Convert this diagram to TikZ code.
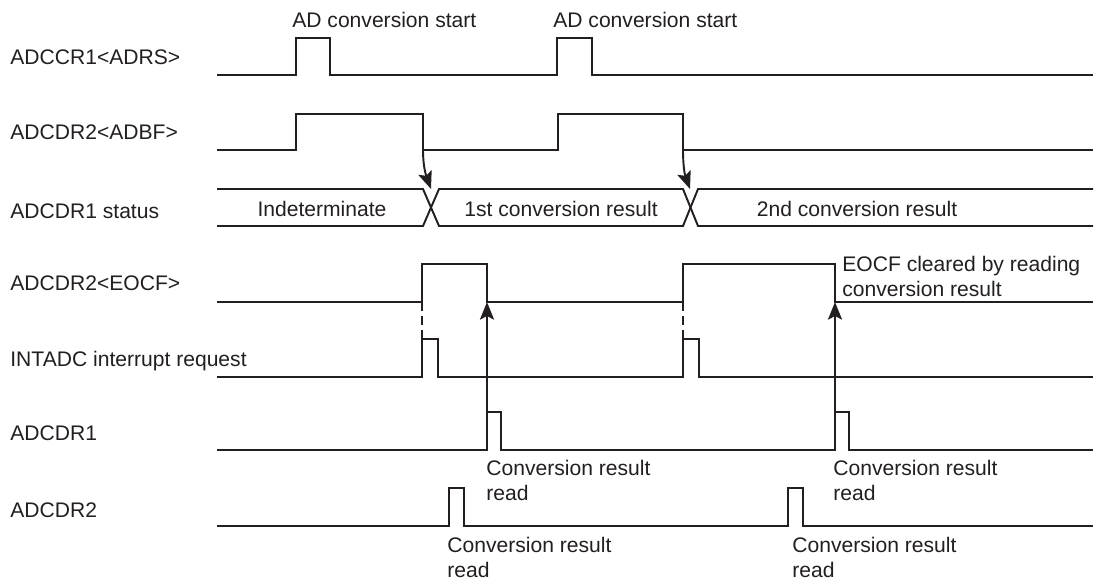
\documentclass[tikz,border=0pt]{standalone}
\usepackage{fontspec}
\setmainfont{Liberation Sans}
\usepackage{tikz}
\usetikzlibrary{arrows.meta}
\definecolor{wavegray}{RGB}{35,31,32}

\begin{document}
\begin{tikzpicture}[x=0.02cm,y=-0.02cm,>={Stealth[length=10pt,width=8pt,inset=2pt]},
    wave/.style={wavegray,line width=1.1pt,line join=miter},
    lbl/.style={anchor=base west,inner sep=0pt,text=wavegray,font=\fontsize{12}{13.8}\selectfont},
    note/.style={lbl,align=left}]
    % Frame of the page
    \useasboundingbox (0,0) rectangle (1101,583);

    % Signal names
    \node[lbl] (nadrs) at (10,64) {ADCCR1<ADRS>};
    \node[lbl] (nadbf) at (10,139) {ADCDR2<ADBF>};
    \node[lbl] (nstat) at (10,218) {ADCDR1 status};
    \node[lbl] (neocf) at (10,290) {ADCDR2<EOCF>};
    \node[lbl] (nint) at (10,366) {INTADC interrupt request};
    \node[lbl] (ndr1) at (10,440) {ADCDR1};
    \node[lbl] (ndr2) at (10,517) {ADCDR2};

    % ADRS
    \draw[wave] (217,75) -| (296,38) -| (330,75) -| (557,38) -| (592,75) -- (1093,75);
    \node[lbl] (start1) at (292,27) {AD conversion start};
    \node[lbl] (start2) at (553,27) {AD conversion start};

    % ADBF
    \draw[wave] (217,150) -| (296,114) -| (423,150) -| (558,114) -| (683,150) -- (1093,150);

    % ADCDR1 status bus
    \draw[wave] (217,189) -- (423,189) -- (439,226) -- (683,226) -- (698,189) -- (1093,189);
    \draw[wave] (217,226) -- (423,226) -- (439,189) -- (683,189) -- (698,226) -- (1093,226);
    \node[lbl,anchor=base] (indet) at (322,216) {Indeterminate};
    \node[lbl,anchor=base] (res1) at (561,216) {1st conversion result};
    \node[lbl,anchor=base] (res2) at (857,216) {2nd conversion result};

    % EOCF
    \draw[wave] (217,302) -| (422,264) -| (487,302) -- (683,302) |- (835,264) |- (1093,302);
    \node[note] (clr) at (842,296) {EOCF cleared by reading\\conversion result};

    % INTADC
    \draw[wave] (217,377) -| (422,339) -| (438,377) -| (683,339) -| (699,377) -- (1093,377);

    % ADCDR1 read
    \draw[wave] (217,450) -| (487,412) -| (501,450) -| (835,412) -| (849,450) -- (1093,450);
    \node[note] (rd1a) at (486,500) {Conversion result\\read};
    \node[note] (rd1b) at (833,500) {Conversion result\\read};

    % ADCDR2 read
    \draw[wave] (217,526) -| (449,488) -| (464,526) -| (788,488) -| (803,526) -- (1093,526);
    \node[note] (rd2a) at (447,577) {Conversion result\\read};
    \node[note] (rd2b) at (792,577) {Conversion result\\read};

    % Points for the arrows
    \coordinate (bf1) at (423,150);
    \coordinate (bf2) at (683,150);
    \coordinate (x1) at (431,189);
    \coordinate (x2) at (690,189);
    \coordinate (eo1) at (422,302);
    \coordinate (eo2) at (683,302);
    \coordinate (in1) at (422,339);
    \coordinate (in2) at (683,339);
    \coordinate (cl1) at (487,302);
    \coordinate (cl2) at (835,302);
    \coordinate (rp1) at (487,412);
    \coordinate (rp2) at (835,412);

    % ADBF falls -> result valid
    \draw[wave,->] (bf1) to[out=-90,in=110] (x1);
    \draw[wave,->] (bf2) to[out=-90,in=110] (x2);

    % EOCF -> INTADC
    \draw[wave,dashed,dash pattern=on 5pt off 3pt] (eo1) -- (in1);
    \draw[wave,dashed,dash pattern=on 5pt off 3pt] (eo2) -- (in2);

    % reading ADCDR1 clears EOCF
    \draw[wave,->] (rp1) -- (cl1);
    \draw[wave,->] (rp2) -- (cl2);
\end{tikzpicture}
\end{document}
